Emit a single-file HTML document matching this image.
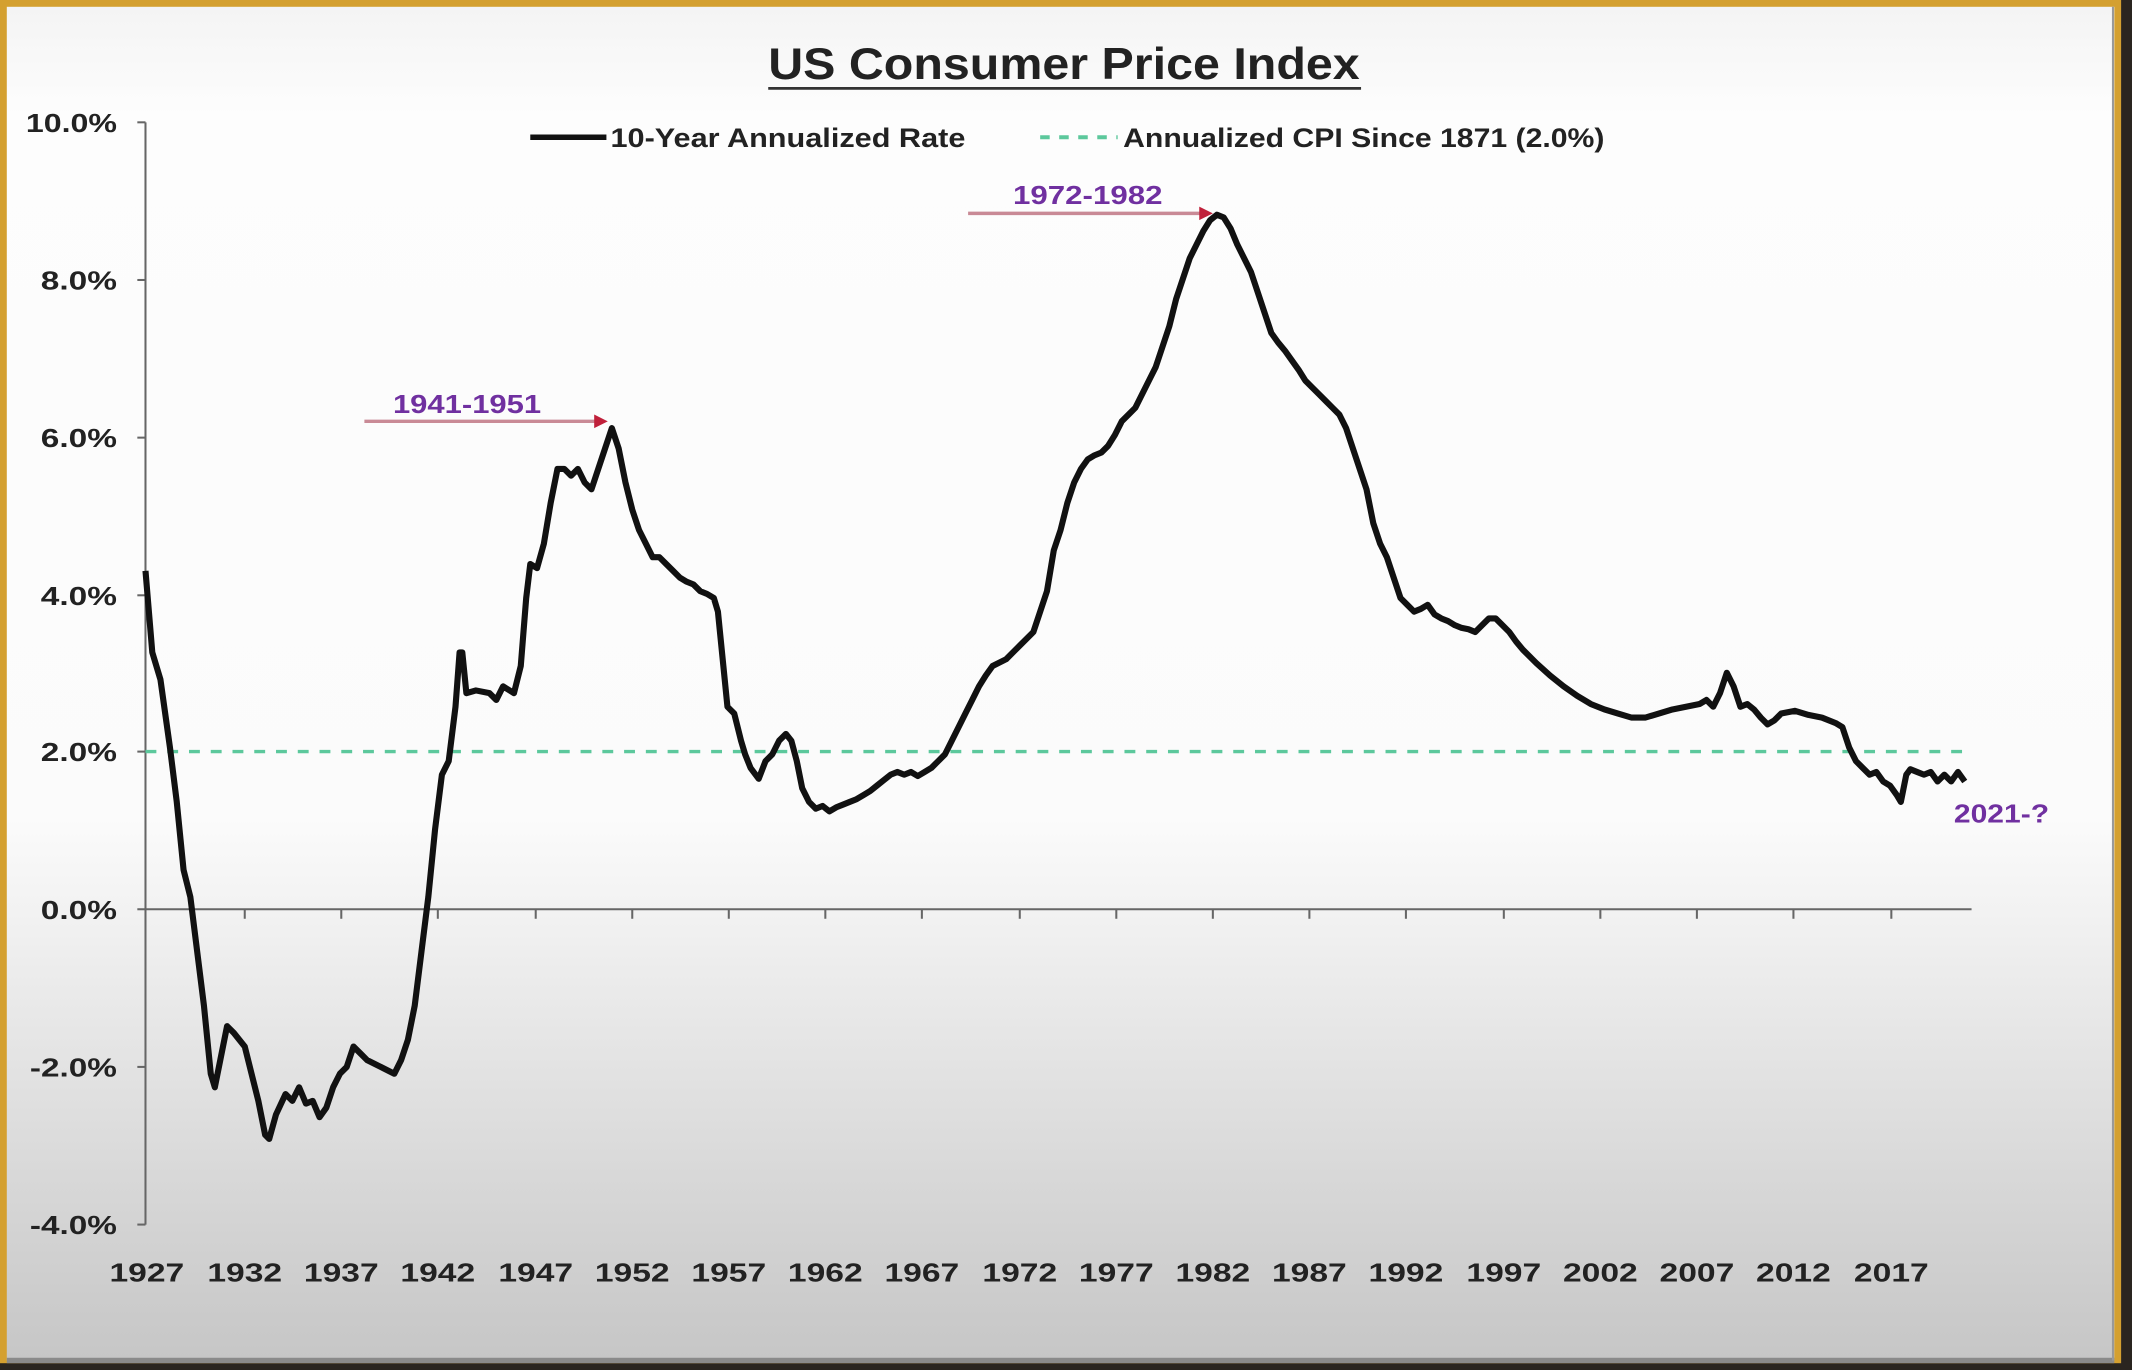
<!DOCTYPE html>
<html><head><meta charset="utf-8"><style>
html,body{margin:0;padding:0;width:2132px;height:1370px;overflow:hidden;background:#2a2520;}
svg{display:block;}
text{font-family:"Liberation Sans",sans-serif;font-weight:bold;}
</style></head><body>
<svg width="2132" height="1370" viewBox="0 0 1568 1008" preserveAspectRatio="none" xmlns="http://www.w3.org/2000/svg">
<defs>
<linearGradient id="bg" x1="0" y1="0" x2="0" y2="1">
<stop offset="0" stop-color="#f4f4f4"/>
<stop offset="0.08" stop-color="#fdfdfd"/>
<stop offset="0.6" stop-color="#fbfbfb"/>
<stop offset="1" stop-color="#c6c6c6"/>
</linearGradient>
</defs>
<rect x="0" y="0" width="1568" height="1008" fill="#2a2520"/>
<rect x="0" y="0" width="1560" height="1003" fill="#d4a030"/>
<rect x="5" y="5" width="1550" height="996" fill="url(#bg)"/>
<rect x="5" y="999" width="1550" height="4" fill="#8a8a8a"/>
<line x1="1554" y1="5" x2="1554" y2="1001" stroke="#999" stroke-width="1.5"/>

<text x="565" y="58" font-size="33" fill="#222" textLength="435" lengthAdjust="spacingAndGlyphs">US Consumer Price Index</text>
<line x1="565" y1="65" x2="1001" y2="65" stroke="#333" stroke-width="2"/>

<!-- legend -->
<line x1="390" y1="101" x2="446" y2="101" stroke="#111" stroke-width="4"/>
<text x="449" y="108" font-size="20" fill="#222" textLength="261" lengthAdjust="spacingAndGlyphs">10-Year Annualized Rate</text>
<line x1="765" y1="101" x2="822" y2="101" stroke="#5cc89c" stroke-width="3" stroke-dasharray="7,7"/>
<text x="826" y="108" font-size="20" fill="#222" textLength="354" lengthAdjust="spacingAndGlyphs">Annualized CPI Since 1871 (2.0%)</text>

<!-- y axis -->
<g stroke="#666" stroke-width="1.5">
<line x1="107" y1="90" x2="107" y2="901"/>
<line x1="101" y1="90" x2="107" y2="90"/>
<line x1="101" y1="206" x2="107" y2="206"/>
<line x1="101" y1="322" x2="107" y2="322"/>
<line x1="101" y1="438" x2="107" y2="438"/>
<line x1="101" y1="553" x2="107" y2="553"/>
<line x1="101" y1="669" x2="107" y2="669"/>
<line x1="101" y1="785" x2="107" y2="785"/>
<line x1="101" y1="901" x2="107" y2="901"/>
<line x1="107" y1="669" x2="1450" y2="669"/>
<line x1="180" y1="669" x2="180" y2="676"/><line x1="251" y1="669" x2="251" y2="676"/><line x1="322" y1="669" x2="322" y2="676"/><line x1="394" y1="669" x2="394" y2="676"/><line x1="465" y1="669" x2="465" y2="676"/><line x1="536" y1="669" x2="536" y2="676"/><line x1="607" y1="669" x2="607" y2="676"/><line x1="678" y1="669" x2="678" y2="676"/><line x1="750" y1="669" x2="750" y2="676"/><line x1="821" y1="669" x2="821" y2="676"/><line x1="892" y1="669" x2="892" y2="676"/><line x1="963" y1="669" x2="963" y2="676"/><line x1="1034" y1="669" x2="1034" y2="676"/><line x1="1106" y1="669" x2="1106" y2="676"/><line x1="1177" y1="669" x2="1177" y2="676"/><line x1="1248" y1="669" x2="1248" y2="676"/><line x1="1319" y1="669" x2="1319" y2="676"/><line x1="1391" y1="669" x2="1391" y2="676"/>
</g>
<g font-size="19" fill="#222" text-anchor="end" lengthAdjust="spacingAndGlyphs">
<text x="86" y="97" textLength="67" lengthAdjust="spacingAndGlyphs">10.0%</text>
<text x="86" y="213" textLength="56" lengthAdjust="spacingAndGlyphs">8.0%</text>
<text x="86" y="329" textLength="56" lengthAdjust="spacingAndGlyphs">6.0%</text>
<text x="86" y="445" textLength="56" lengthAdjust="spacingAndGlyphs">4.0%</text>
<text x="86" y="560" textLength="56" lengthAdjust="spacingAndGlyphs">2.0%</text>
<text x="86" y="676" textLength="56" lengthAdjust="spacingAndGlyphs">0.0%</text>
<text x="86" y="792" textLength="64" lengthAdjust="spacingAndGlyphs">-2.0%</text>
<text x="86" y="908" textLength="64" lengthAdjust="spacingAndGlyphs">-4.0%</text>
</g>
<g font-size="19" fill="#222" text-anchor="middle">
<text x="108" y="943" textLength="55" lengthAdjust="spacingAndGlyphs">1927</text><text x="180" y="943" textLength="55" lengthAdjust="spacingAndGlyphs">1932</text><text x="251" y="943" textLength="55" lengthAdjust="spacingAndGlyphs">1937</text><text x="322" y="943" textLength="55" lengthAdjust="spacingAndGlyphs">1942</text><text x="394" y="943" textLength="55" lengthAdjust="spacingAndGlyphs">1947</text><text x="465" y="943" textLength="55" lengthAdjust="spacingAndGlyphs">1952</text><text x="536" y="943" textLength="55" lengthAdjust="spacingAndGlyphs">1957</text><text x="607" y="943" textLength="55" lengthAdjust="spacingAndGlyphs">1962</text><text x="678" y="943" textLength="55" lengthAdjust="spacingAndGlyphs">1967</text><text x="750" y="943" textLength="55" lengthAdjust="spacingAndGlyphs">1972</text><text x="821" y="943" textLength="55" lengthAdjust="spacingAndGlyphs">1977</text><text x="892" y="943" textLength="55" lengthAdjust="spacingAndGlyphs">1982</text><text x="963" y="943" textLength="55" lengthAdjust="spacingAndGlyphs">1987</text><text x="1034" y="943" textLength="55" lengthAdjust="spacingAndGlyphs">1992</text><text x="1106" y="943" textLength="55" lengthAdjust="spacingAndGlyphs">1997</text><text x="1177" y="943" textLength="55" lengthAdjust="spacingAndGlyphs">2002</text><text x="1248" y="943" textLength="55" lengthAdjust="spacingAndGlyphs">2007</text><text x="1319" y="943" textLength="55" lengthAdjust="spacingAndGlyphs">2012</text><text x="1391" y="943" textLength="55" lengthAdjust="spacingAndGlyphs">2017</text>
</g>

<line x1="107" y1="553" x2="1450" y2="553" stroke="#5cc89c" stroke-width="2.5" stroke-dasharray="8,8"/>

<polyline fill="none" stroke="#111" stroke-width="4.5" stroke-linejoin="round" points="107,420 112,480 118,500 125,550 130,590 135,640 140,660 145,700 150,740 155,790 158,800 162,780 167,755 172,760 180,770 185,790 190,810 195,835 198,838 203,820 210,805 215,810 220,800 225,812 230,810 235,822 240,815 245,800 250,790 255,785 260,770 265,775 270,780 280,785 290,790 295,780 300,765 305,740 310,700 315,660 320,610 325,570 330,560 335,520 338,480 340,480 343,510 350,508 360,510 365,515 370,505 378,510 383,490 387,440 390,415 395,418 400,400 405,370 410,345 415,345 420,350 425,345 430,355 435,360 440,345 445,330 450,315 455,330 460,355 465,375 470,390 475,400 480,410 485,410 490,415 495,420 500,425 505,428 510,430 515,435 520,437 525,440 528,450 532,490 535,520 540,525 545,545 548,555 552,565 558,573 563,560 568,555 573,545 578,540 582,545 586,560 590,580 595,590 600,595 605,593 610,597 615,594 620,592 625,590 630,588 635,585 640,582 645,578 650,574 655,570 660,568 665,570 670,568 675,571 680,568 685,565 690,560 695,555 700,545 705,535 710,525 715,515 720,505 725,497 730,490 740,485 750,475 760,465 765,450 770,435 775,405 780,390 785,370 790,355 795,345 800,338 805,335 810,333 815,328 820,320 825,310 830,305 835,300 840,290 845,280 850,270 855,255 860,240 865,220 870,205 875,190 880,180 885,170 890,162 895,158 900,160 905,168 910,180 915,190 920,200 925,215 930,230 935,245 940,252 945,258 950,265 955,272 960,280 965,285 970,290 975,295 980,300 985,305 990,315 995,330 1000,345 1005,360 1010,385 1015,400 1020,410 1025,425 1030,440 1035,445 1040,450 1045,448 1050,445 1055,452 1060,455 1065,457 1070,460 1075,462 1080,463 1085,465 1090,460 1095,455 1100,455 1105,460 1110,465 1115,472 1120,478 1130,488 1140,497 1150,505 1160,512 1170,518 1180,522 1190,525 1200,528 1210,528 1220,525 1230,522 1240,520 1250,518 1255,515 1260,520 1265,510 1270,495 1275,505 1280,520 1285,518 1290,522 1295,528 1300,533 1305,530 1310,525 1320,523 1330,526 1340,528 1350,532 1355,535 1360,550 1365,560 1370,565 1375,570 1380,568 1385,575 1390,578 1395,585 1398,590 1402,570 1405,566 1410,568 1415,570 1420,568 1425,575 1430,570 1435,575 1440,568 1445,575"/>

<!-- annotations -->
<line x1="268" y1="310" x2="438" y2="310" stroke="#c98a96" stroke-width="2.5"/>
<polygon points="437,305 447,310 437,315" fill="#c0203a"/>
<text x="289" y="304" font-size="19" fill="#7030a0" textLength="109" lengthAdjust="spacingAndGlyphs">1941-1951</text>
<line x1="712" y1="157" x2="883" y2="157" stroke="#c98a96" stroke-width="2.5"/>
<polygon points="882,152 892,157 882,162" fill="#c0203a"/>
<text x="745" y="150" font-size="19" fill="#7030a0" textLength="110" lengthAdjust="spacingAndGlyphs">1972-1982</text>
<text x="1437" y="605" font-size="19" fill="#7030a0" textLength="70" lengthAdjust="spacingAndGlyphs">2021-?</text>
</svg>
</body></html>
